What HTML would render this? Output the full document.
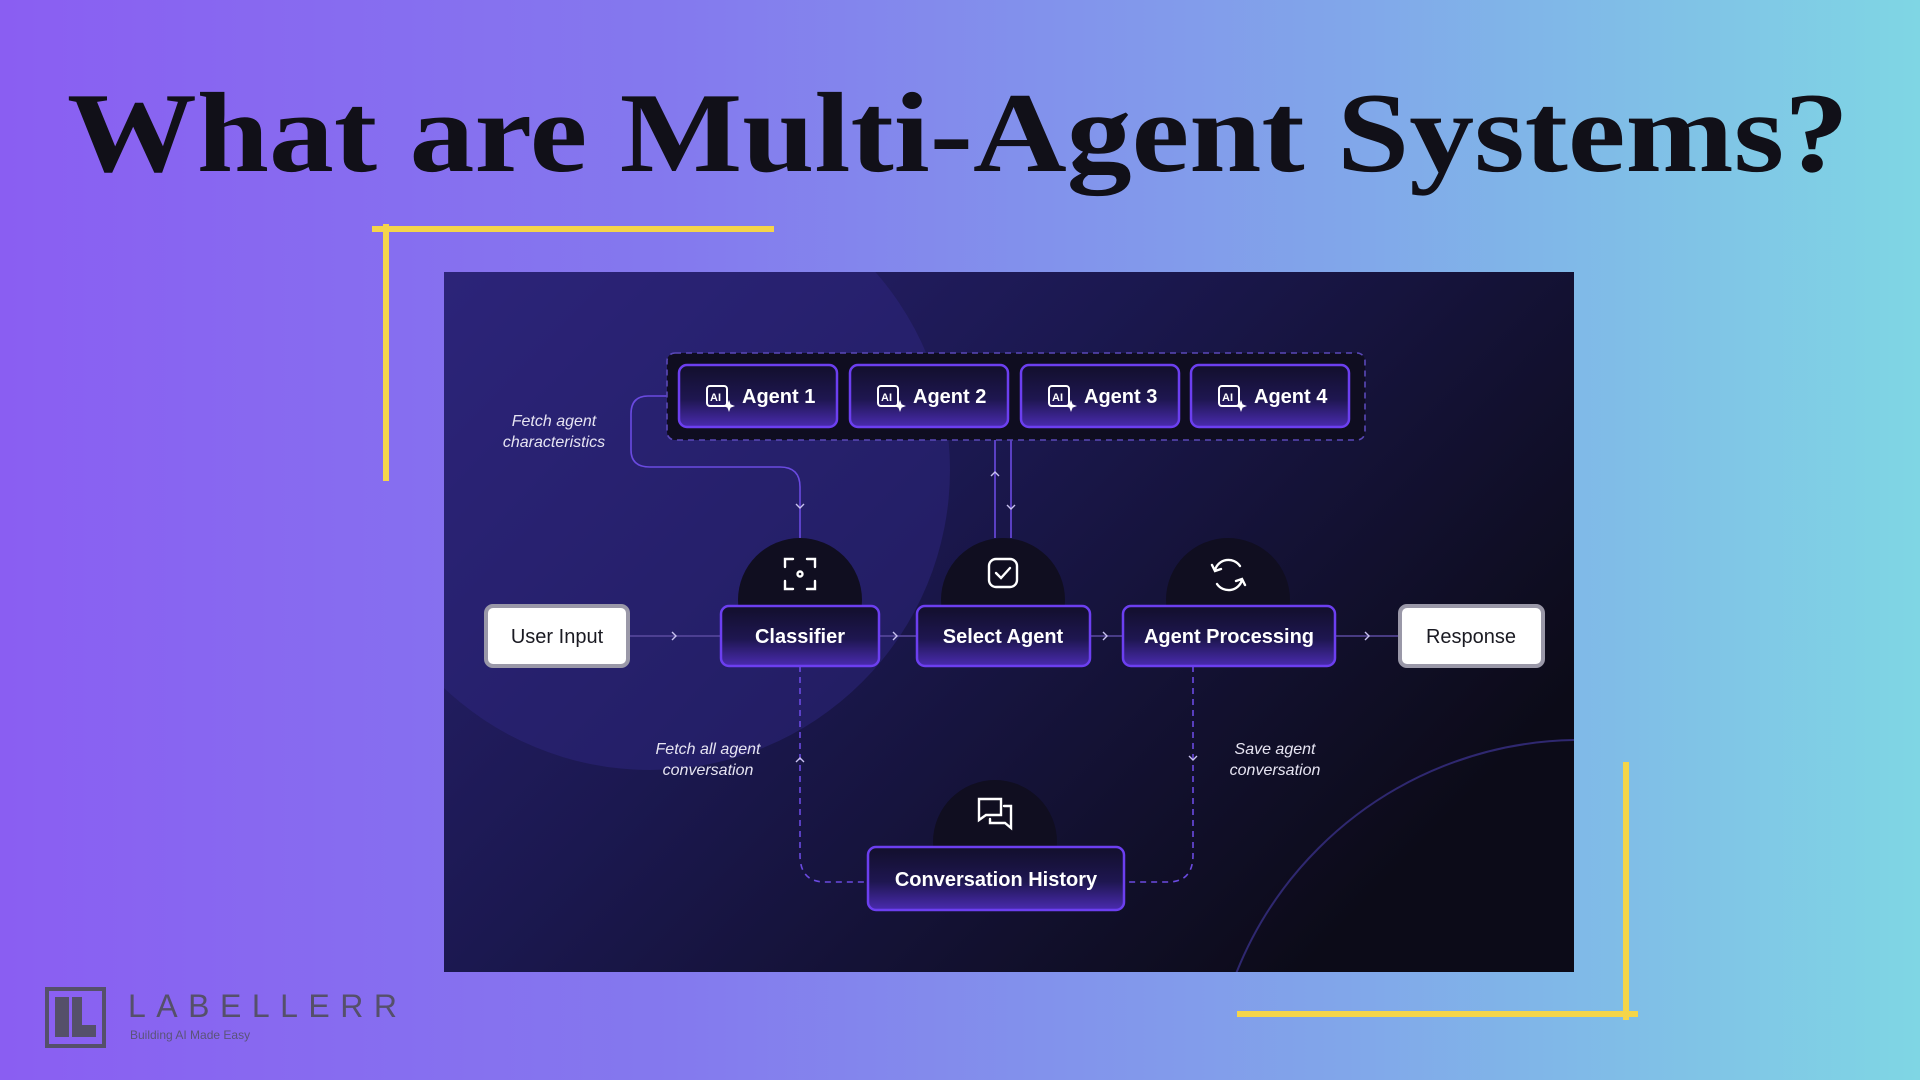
<!DOCTYPE html>
<html><head><meta charset="utf-8"><style>
html,body{margin:0;padding:0;width:1920px;height:1080px;overflow:hidden}
body{background:linear-gradient(90deg,#8a5ef2 0%,#8479ee 35%,#81a6ea 70%,#7fd6e4 100%)}
svg{position:absolute;left:0;top:0;display:block}
</style></head><body>
<svg width="1920" height="1080" viewBox="0 0 1920 1080" font-family="Liberation Sans, sans-serif">
<defs>
<linearGradient id="pg" x1="0" y1="0" x2="1" y2="0.6">
<stop offset="0" stop-color="#2a2272"/><stop offset="0.45" stop-color="#1b1850"/><stop offset="1" stop-color="#0c0b18"/></linearGradient>
<linearGradient id="bx" x1="0" y1="0" x2="0" y2="1">
<stop offset="0" stop-color="#120f2c"/><stop offset="0.55" stop-color="#1e1650"/><stop offset="1" stop-color="#4a2bb0"/></linearGradient>
<clipPath id="pc"><rect x="444" y="272" width="1130" height="700"/></clipPath>
<g id="ai"><rect x="0" y="0" width="20" height="20" rx="3" fill="none" stroke="#fff" stroke-width="2"/><text x="3" y="15" font-size="11" fill="#fff">AI</text><path d="M22 14 l1.6 4.4 4.4 1.6 -4.4 1.6 -1.6 4.4 -1.6 -4.4 -4.4 -1.6 4.4 -1.6z" fill="#fff"/></g>
</defs>
<text x="67" y="171" font-family="Liberation Serif, serif" font-weight="bold" font-size="114" fill="#111018" textLength="1782" lengthAdjust="spacingAndGlyphs">What are Multi-Agent Systems?</text>
<g fill="#f5d54a"><rect x="372" y="226" width="402" height="6"/><rect x="383" y="224" width="6" height="257"/><rect x="1623" y="762" width="6" height="258"/><rect x="1237" y="1011" width="401" height="6"/></g>
<rect x="444" y="272" width="1130" height="700" fill="url(#pg)"/>
<g clip-path="url(#pc)">
<circle cx="650" cy="470" r="300" fill="#2d2580" opacity="0.5"/>
<circle cx="1580" cy="1110" r="370" fill="none" stroke="#2f2870" stroke-width="2"/>
</g>
<g fill="none" stroke="#6a4ae0" stroke-width="1.6">
<path d="M667 396 H648 Q631 396 631 414 V450 Q631 467 650 467 H780 Q800 467 800 487 V538"/>
<path d="M995 440 V538 M1011 440 V538"/>
<path d="M628 636 H721 M879 636 H917 M1090 636 H1123 M1335 636 H1400" stroke="#5a4aa0"/>
<path d="M800 666 V855 Q800 882 825 882 H868 M1193 666 V855 Q1193 882 1168 882 H1124" stroke-dasharray="6 5"/>
</g>
<g fill="none" stroke="#c9c2f0" stroke-width="1.4">
<path d="M796 504 l4 4 4 -4 M991 476 l4 -4 4 4 M1007 505 l4 4 4 -4 M796 762 l4 -4 4 4 M1189 756 l4 4 4 -4"/>
<path d="M672 632 l4 4 -4 4 M893 632 l4 4 -4 4 M1103 632 l4 4 -4 4 M1365 632 l4 4 -4 4"/>
</g>
<rect x="667" y="353" width="698" height="87" rx="8" fill="#0f0d20" stroke="#5a48b8" stroke-width="1.6" stroke-dasharray="6 5"/>
<g font-size="20" font-weight="bold" fill="#fff">
<rect x="679" y="365" width="158" height="62" rx="8" fill="url(#bx)" stroke="#6c3ff0" stroke-width="2.5"/>
<use href="#ai" x="707" y="386"/><text x="742" y="403">Agent 1</text>
<rect x="850" y="365" width="158" height="62" rx="8" fill="url(#bx)" stroke="#6c3ff0" stroke-width="2.5"/>
<use href="#ai" x="878" y="386"/><text x="913" y="403">Agent 2</text>
<rect x="1021" y="365" width="158" height="62" rx="8" fill="url(#bx)" stroke="#6c3ff0" stroke-width="2.5"/>
<use href="#ai" x="1049" y="386"/><text x="1084" y="403">Agent 3</text>
<rect x="1191" y="365" width="158" height="62" rx="8" fill="url(#bx)" stroke="#6c3ff0" stroke-width="2.5"/>
<use href="#ai" x="1219" y="386"/><text x="1254" y="403">Agent 4</text>
</g>
<g fill="#100e20">
<circle cx="800" cy="600" r="62"/><circle cx="1003" cy="600" r="62"/><circle cx="1228" cy="600" r="62"/><circle cx="995" cy="842" r="62"/>
</g>
<g fill="none" stroke="#fff" stroke-width="2.4" stroke-linecap="round">
<path d="M785 567 v-8 h8 M807 559 h8 v8 M815 581 v8 h-8 M793 589 h-8 v-8"/><circle cx="800" cy="574" r="2.5"/>
<rect x="989" y="559" width="28" height="28" rx="7"/><path d="M996 573 l5 5 9 -10"/>
<path d="M1215 570 a14 14 0 0 1 25 -4 M1242 580 a14 14 0 0 1 -25 4 M1212 565 l3 6 6 -2 M1245 585 l-3 -6 -6 2"/>
<path d="M979 799 h22 v16 h-15 l-7 5z M1004 806 h7 v22 l-6 -5 h-15 v-4"/>
</g>
<g font-size="20" font-weight="bold" text-anchor="middle">
<rect x="486" y="606" width="142" height="60" rx="7" fill="#fff" stroke="#9a98a8" stroke-width="4"/>
<text x="557" y="643" fill="#1a1a22" font-weight="normal">User Input</text>
<rect x="1400" y="606" width="143" height="60" rx="7" fill="#fff" stroke="#9a98a8" stroke-width="4"/>
<text x="1471" y="643" fill="#1a1a22" font-weight="normal">Response</text>
<g fill="#fff">
<rect x="721" y="606" width="158" height="60" rx="8" fill="url(#bx)" stroke="#6c3ff0" stroke-width="2.5"/>
<text x="800" y="643">Classifier</text>
<rect x="917" y="606" width="173" height="60" rx="8" fill="url(#bx)" stroke="#6c3ff0" stroke-width="2.5"/>
<text x="1003" y="643">Select Agent</text>
<rect x="1123" y="606" width="212" height="60" rx="8" fill="url(#bx)" stroke="#6c3ff0" stroke-width="2.5"/>
<text x="1229" y="643">Agent Processing</text>
<rect x="868" y="847" width="256" height="63" rx="8" fill="url(#bx)" stroke="#6c3ff0" stroke-width="2.5"/>
<text x="996" y="886">Conversation History</text>
</g>
</g>
<g font-size="16" font-style="italic" fill="#e6e4f2" text-anchor="middle">
<text x="554" y="426">Fetch agent</text><text x="554" y="447">characteristics</text>
<text x="708" y="754">Fetch all agent</text><text x="708" y="775">conversation</text>
<text x="1275" y="754">Save agent</text><text x="1275" y="775">conversation</text>
</g>
<g fill="#55506a">
<rect x="47" y="989" width="57" height="57" fill="none" stroke="#55506a" stroke-width="4"/>
<path d="M55 997 h14 v40 h-14z M72 997 h10 v28 h14 v12 h-24z"/>
<text x="128" y="1017" font-size="32" letter-spacing="10.5">LABELLERR</text>
<text x="130" y="1039" font-size="12" fill="#5a5478">Building AI Made Easy</text>
</g>
</svg>
</body></html>
